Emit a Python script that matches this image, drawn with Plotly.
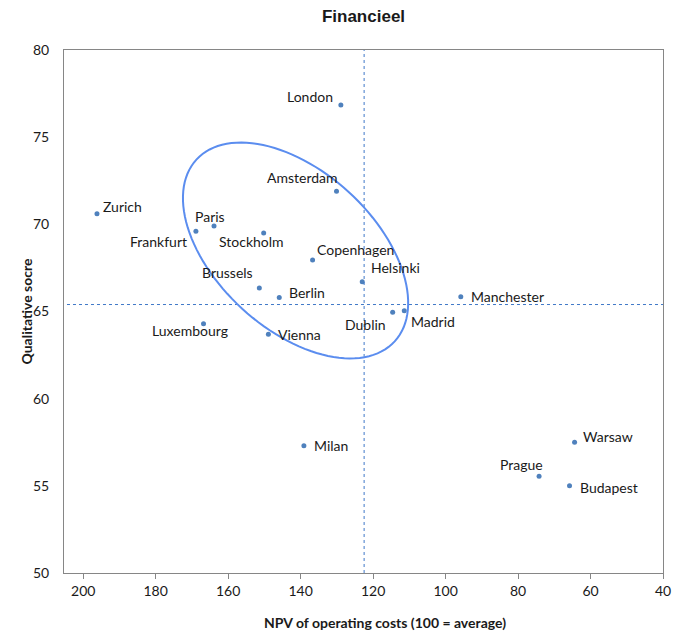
import numpy as np
import plotly.graph_objects as go

# City data: operating-cost NPV (100 = average) and qualitative score
cities = ["London", "Amsterdam", "Zurich", "Paris", "Frankfurt", "Stockholm",
          "Copenhagen", "Helsinki", "Brussels", "Berlin", "Manchester", "Dublin",
          "Madrid", "Luxembourg", "Vienna", "Milan", "Warsaw", "Prague", "Budapest"]
npv = [128.9, 130.1, 196.2, 163.9, 168.9, 150.2,
       136.7, 123.0, 151.4, 145.9, 95.8, 114.6,
       111.4, 166.8, 148.9, 139.1, 64.4, 74.2, 65.8]
score = [76.85, 71.9, 70.6, 69.9, 69.6, 69.5,
         67.95, 66.7, 66.35, 65.8, 65.85, 64.95,
         65.05, 64.3, 63.7, 57.3, 57.5, 55.55, 55.0]

# Reference lines (averages)
cost_ref = 122.48
score_ref = 65.40

x_ticks = [200, 180, 160, 140, 120, 100, 80, 60, 40]
y_ticks = [50, 55, 60, 65, 70, 75, 80]

# Label placement: (xanchor, xshift px, yshift px)
label_pos = {
    "London": ("right", -6, 8),
    "Amsterdam": ("center", -34, 14),
    "Zurich": ("left", 4, 7),
    "Paris": ("center", -4, 10),
    "Frankfurt": ("right", -7, -10),
    "Stockholm": ("center", -12, -8),
    "Copenhagen": ("left", 2, 11),
    "Helsinki": ("left", 7, 14),
    "Brussels": ("center", -32, 15),
    "Berlin": ("left", 8, 5),
    "Manchester": ("left", 8, 0),
    "Dublin": ("right", -5, -12),
    "Madrid": ("left", 5, -11),
    "Luxembourg": ("center", -14, -7),
    "Vienna": ("left", 8, 0),
    "Milan": ("left", 8, 0),
    "Warsaw": ("left", 6, 6),
    "Prague": ("center", -18, 12),
    "Budapest": ("left", 8, -2),
}

W, H = 682, 631
margin = dict(l=64, r=19, t=50, b=58)
x_range = [205.3, 40]
y_range = [50, 80]

label_font = dict(family="Lato, Carlito, sans-serif", size=14, color="#1a1a1a")

fig = go.Figure()
fig.add_trace(go.Scatter(
    x=npv, y=score, mode="markers",
    marker=dict(color="#4F81BD", size=5),
    hoverinfo="text", text=cities, showlegend=False,
))

for name, xv, yv in zip(cities, npv, score):
    anchor, dx, dy = label_pos[name]
    fig.add_annotation(x=xv, y=yv, text=name, showarrow=False,
                       xanchor=anchor, yanchor="middle",
                       xshift=dx, yshift=dy, font=label_font)

# Dotted average lines
fig.add_shape(type="line", xref="x", yref="paper", x0=cost_ref, x1=cost_ref,
              y0=0, y1=1, line=dict(color="#3F78C8", width=1, dash="dot"))
fig.add_shape(type="line", xref="paper", yref="y", x0=0.005, x1=1,
              y0=score_ref, y1=score_ref, line=dict(color="#3F78C8", width=1, dash="dot"))

# Ellipse around the core cluster (semi-axes in screen pixels, tilted)
plot_w = W - margin["l"] - margin["r"]
plot_h = H - margin["t"] - margin["b"]
sx = plot_w / (x_range[0] - x_range[1])
sy = plot_h / (y_range[1] - y_range[0])
ecx, ecy = 141.4, 68.5
ea, eb, etheta = 134.5, 79.0, np.radians(42.5)
t = np.linspace(0, 2 * np.pi, 121)
dxp = ea * np.cos(t) * np.cos(etheta) - eb * np.sin(t) * np.sin(etheta)
dyp = ea * np.cos(t) * np.sin(etheta) + eb * np.sin(t) * np.cos(etheta)
ex = ecx - dxp / sx
ey = ecy - dyp / sy
path = "M " + " L ".join(f"{a:.4f},{b:.4f}" for a, b in zip(ex, ey)) + " Z"
fig.add_shape(type="path", xref="x", yref="y", path=path,
              line=dict(color="#5B8DEF", width=2), fillcolor="rgba(0,0,0,0)")

axis_font = dict(family="Lato, Carlito, sans-serif", size=14, color="#1a1a1a")
title_font = dict(family="Lato, Carlito, sans-serif", size=14, color="#1a1a1a", weight="bold")

fig.update_xaxes(range=x_range, tickvals=x_ticks, ticktext=[str(v) for v in x_ticks],
                 showgrid=False, zeroline=False, showline=True, mirror=True,
                 linecolor="#868686", linewidth=1, automargin=False,
                 ticks="outside", ticklen=5, tickcolor="#868686",
                 tickfont=axis_font)
fig.update_yaxes(range=y_range, tickvals=y_ticks,
                 showgrid=False, zeroline=False, showline=True, mirror=True,
                 linecolor="#868686", linewidth=1, ticks="", automargin=False,
                 ticklabelstandoff=11,
                 tickfont=axis_font)

# Axis titles
fig.add_annotation(text="NPV of operating costs (100 = average)", xref="paper", yref="paper",
                   x=321 / plot_w, y=-49 / plot_h, xanchor="center", yanchor="middle",
                   showarrow=False, font=title_font)
fig.add_annotation(text="Qualitative socre", xref="paper", yref="paper",
                   x=-38 / plot_w, y=0.5, xanchor="center", yanchor="middle",
                   textangle=-90, showarrow=False, font=title_font)

fig.update_layout(
    width=W, height=H, margin=margin,
    paper_bgcolor="white", plot_bgcolor="white",
    title=dict(text="Financieel", x=(margin["l"] + plot_w / 2) / W, xanchor="center",
               y=1 - 16 / H, yanchor="middle",
               font=dict(family="Liberation Sans, Arial, sans-serif", size=17,
                         color="#1a1a1a", weight="bold")),
)

fig.write_html("out.html")
